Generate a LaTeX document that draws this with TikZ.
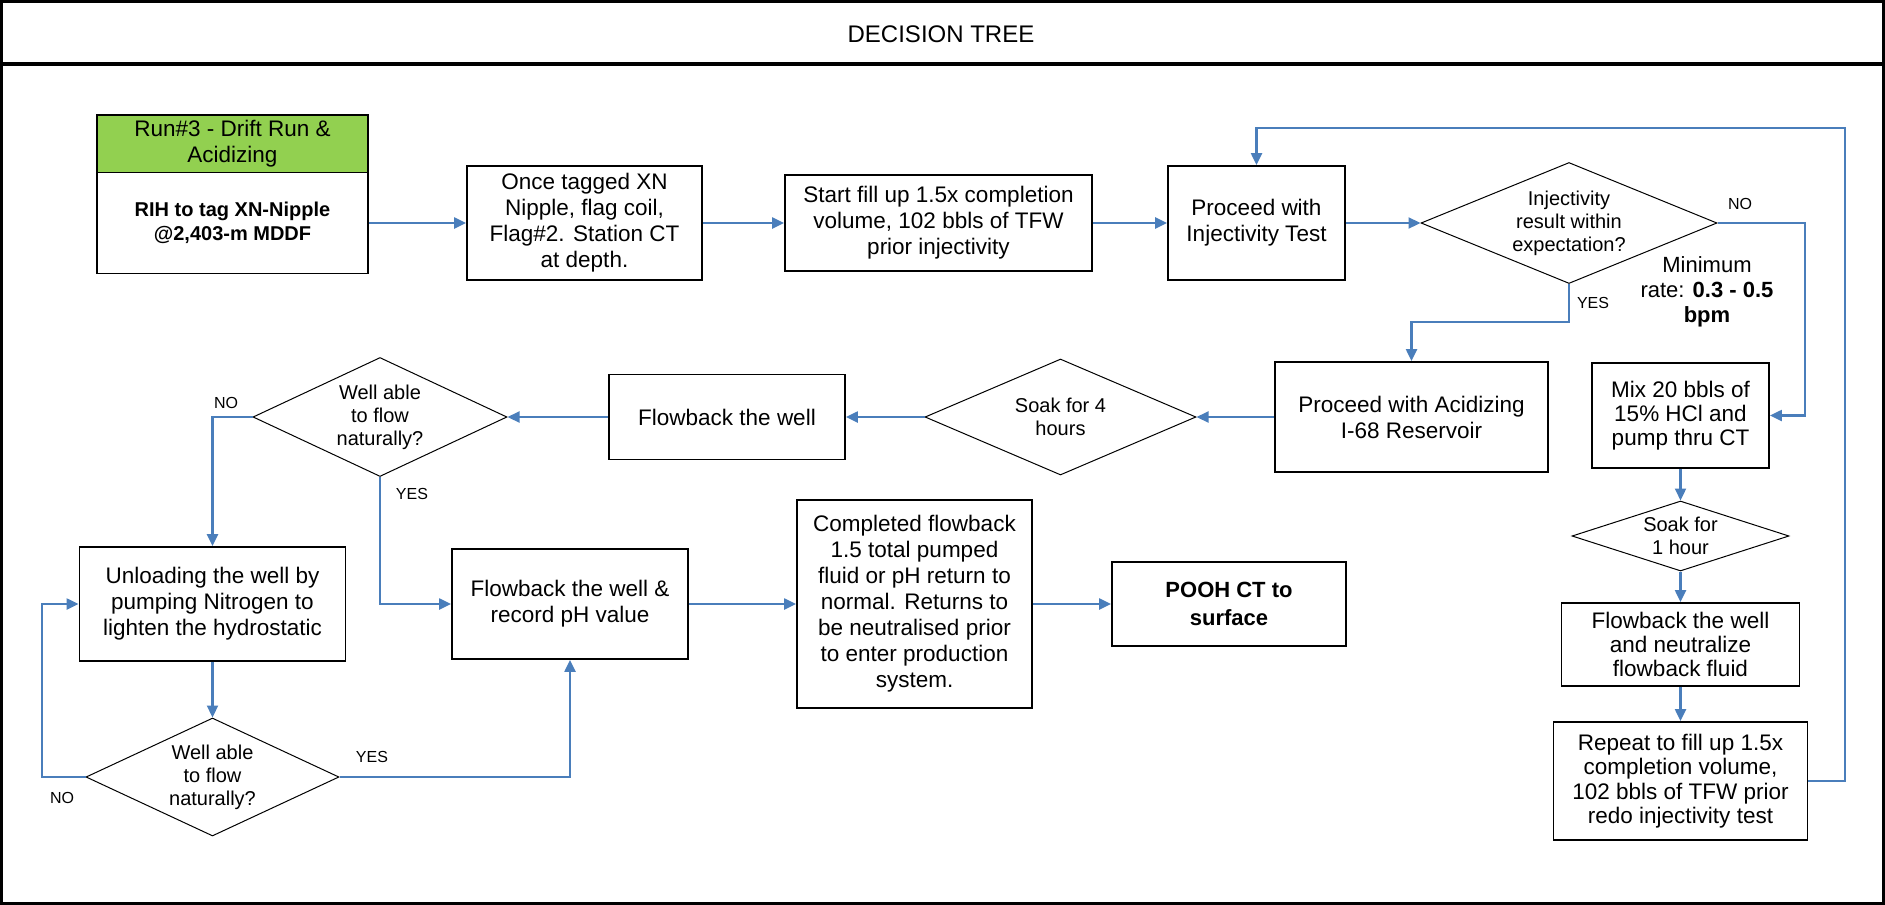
\documentclass[tikz,border=0pt]{standalone}
\usepackage{fontspec}
\setmainfont{Liberation Sans}
\usetikzlibrary{arrows.meta,shapes.geometric,calc}
\definecolor{cblue}{RGB}{74,126,187}
\definecolor{hgreen}{RGB}{146,208,80}
\begin{document}
\begin{tikzpicture}[x=0.5pt,y=-0.5pt,
  box/.style={draw=black,line width=0.9pt,inner sep=0pt,align=center,font=\fontsize{11.25}{13}\selectfont},
  dia/.style={draw=black,line width=0.5pt,diamond,inner sep=0pt},
  dtext/.style={align=center,inner sep=0pt,font=\fontsize{10}{11.5}\selectfont},
  conn/.style={draw=cblue,line width=1.1pt},
  arr/.style={conn,-{Triangle[length=6pt,width=5.5pt]}},
  lbl/.style={font=\fontsize{8}{9}\selectfont,inner sep=0pt},
]
\useasboundingbox (0,0) rectangle (1885,905);
% frame and title
\draw[line width=1.5pt] (1.5,1.5) rectangle (1883.5,903.5);
\draw[line width=2pt] (0,64) -- (1885,64);
\node[font=\fontsize{12}{14}\selectfont] (title) at (941,34) {DECISION TREE};

% row 1
\node[box,fill=hgreen,minimum width=135.5pt,minimum height=28.75pt] (runh) at (232.5,143.75) {Run\#3 - Drift Run \&\\Acidizing};
\node[box,minimum width=135.5pt,minimum height=50.5pt,font=\bfseries\fontsize{10}{12}\selectfont] (run) at (232.5,223) {RIH to tag XN-Nipple\\@2,403-m MDDF};
\node[box,minimum width=117.5pt,minimum height=57pt] (once) at (584.5,223) {Once tagged XN\\Nipple, flag coil,\\Flag\#2. Station CT\\at depth.};
\node[box,minimum width=153.5pt,minimum height=48pt] (start) at (938.5,223) {Start fill up 1.5x completion\\volume, 102 bbls of TFW\\prior injectivity};
\node[box,minimum width=88.5pt,minimum height=57pt] (inj) at (1256.5,223) {Proceed with\\Injectivity Test};
\node[dia,minimum width=148pt,minimum height=60.5pt,label={[dtext]center:Injectivity\\result within\\expectation?}] (d1) at (1569,223) {};
\node[align=center,font=\fontsize{11}{12.5}\selectfont,inner sep=0pt] (minrate) at (1707,292) {Minimum\\rate: \textbf{0.3 - 0.5}\\\textbf{bpm}};

% row 2
\node[box,minimum width=136.5pt,minimum height=55pt] (acid) at (1411.5,417) {Proceed with Acidizing\\I-68 Reservoir};
\node[dia,minimum width=135.5pt,minimum height=58pt,label={[dtext]center:Soak for 4\\hours}] (d2) at (1060.5,417) {};
\node[box,minimum width=118pt,minimum height=42.5pt] (flow) at (727,417) {Flowback the well};
\node[dia,minimum width=127pt,minimum height=59.5pt,label={[dtext]center:Well able\\to flow\\naturally?}] (d3) at (380,417) {};

% row 3
\node[box,minimum width=133pt,minimum height=57pt] (unl) at (212.5,604) {Unloading the well by\\pumping Nitrogen to\\lighten the hydrostatic};
\node[box,minimum width=118pt,minimum height=55pt] (ph) at (570,604) {Flowback the well \&\\record pH value};
\node[dia,minimum width=126.5pt,minimum height=59pt,label={[dtext]center:Well able\\to flow\\naturally?}] (d4) at (212.5,777) {};
\node[box,minimum width=117.5pt,minimum height=104pt] (comp) at (914.5,604) {Completed flowback\\1.5 total pumped\\fluid or pH return to\\normal. Returns to\\be neutralised prior\\to enter production\\system.};
\node[box,minimum width=117pt,minimum height=42pt,font=\bfseries\fontsize{11}{14}\selectfont] (pooh) at (1229,604) {POOH CT to\\surface};

% right column
\node[box,minimum width=88.5pt,minimum height=52.5pt,font=\fontsize{11.25}{12}\selectfont] (mix) at (1680.5,415.5) {Mix 20 bbls of\\15\% HCl and\\pump thru CT};
\node[dia,minimum width=108.5pt,minimum height=35pt,label={[dtext]center:Soak for\\1 hour}] (d5) at (1680.5,536) {};
\node[box,minimum width=119pt,minimum height=41.5pt,font=\fontsize{11.25}{12}\selectfont] (flown) at (1680.5,644.5) {Flowback the well\\and neutralize\\flowback fluid};
\node[box,minimum width=127pt,minimum height=59pt,font=\fontsize{11.25}{12.2}\selectfont] (rep) at (1680.5,781) {Repeat to fill up 1.5x\\completion volume,\\102 bbls of TFW prior\\redo injectivity test};

% labels
\node[lbl] (no1) at (1740,204) {NO};
\node[lbl] (yes1) at (1593,303) {YES};
\node[lbl] (no2) at (226,403) {NO};
\node[lbl] (yes2) at (412,494) {YES};
\node[lbl] (no3) at (62,798) {NO};
\node[lbl] (yes3) at (372,757) {YES};

% connectors
\coordinate (c1) at (1805,223);
\coordinate (c2) at (1411.5,322);
\coordinate (c3) at (42,777);
\coordinate (c4) at (1845,128);
\draw[arr] (run.east) -- (once.west);
\draw[arr] (once.east) -- (start.west);
\draw[arr] (start.east) -- (inj.west);
\draw[arr] (inj.east) -- (d1.west);
\draw[arr] (d1.east) -- (c1) |- (mix.east);
\draw[arr] (d1.south) |- (c2) -- (acid.north);
\draw[arr] (acid.west) -- (d2.east);
\draw[arr] (d2.west) -- (flow.east);
\draw[arr] (flow.west) -- (d3.east);
\draw[arr] (d3.west) -| (unl.north);
\draw[arr] (d3.south) |- (ph.west);
\draw[arr] (unl.south) -- (d4.north);
\draw[arr] (d4.west) -- (c3) |- (unl.west);
\draw[arr] (d4.east) -| (ph.south);
\draw[arr] (ph.east) -- (comp.west);
\draw[arr] (comp.east) -- (pooh.west);
\draw[arr] (mix.south) -- (d5.north);
\draw[arr] (d5.south) -- (flown.north);
\draw[arr] (flown.south) -- (rep.north);
\draw[arr] (rep.east) -| (c4) -| (inj.north);
\end{tikzpicture}
\end{document}
